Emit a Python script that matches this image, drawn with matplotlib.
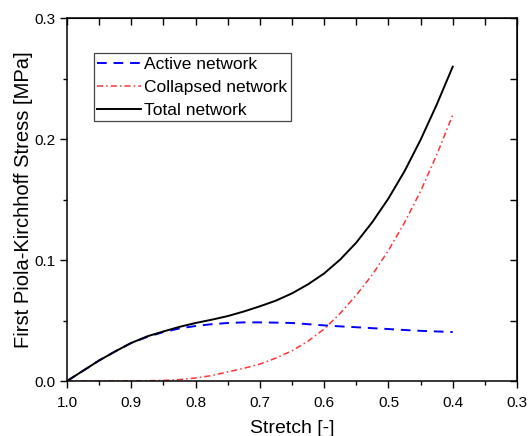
import matplotlib.pyplot as plt
from matplotlib.ticker import MultipleLocator

plt.rcParams['font.family'] = ['Liberation Sans', 'DejaVu Sans']

# stretch values (x axis runs from 1.0 down to 0.3)
stretch = [1.0, 0.975, 0.95, 0.925, 0.9, 0.875, 0.85, 0.825, 0.8, 0.775,
           0.75, 0.725, 0.7, 0.675, 0.65, 0.625, 0.6, 0.575, 0.55, 0.525,
           0.5, 0.475, 0.45, 0.425, 0.4]

active = [0.0, 0.0085, 0.017, 0.0245, 0.0315, 0.0365, 0.0405, 0.0435, 0.0455, 0.047,
          0.048, 0.0485, 0.0485, 0.0483, 0.048, 0.047, 0.046, 0.0452, 0.0445, 0.0437,
          0.043, 0.0422, 0.0415, 0.041, 0.0405]

collapsed = [0.0, 0.0, 0.0, 0.0, 0.0001, 0.0002, 0.0005, 0.0012, 0.0025, 0.0045,
             0.0075, 0.0105, 0.014, 0.019, 0.025, 0.033, 0.043, 0.056, 0.071, 0.088,
             0.108, 0.131, 0.157, 0.187, 0.22]

total = [0.0, 0.0085, 0.017, 0.0245, 0.0315, 0.037, 0.041, 0.0448, 0.048, 0.0507,
         0.0537, 0.0575, 0.0618, 0.0665, 0.0725, 0.080, 0.089, 0.1005, 0.1145, 0.1315,
         0.151, 0.1735, 0.1995, 0.2285, 0.26]

fig = plt.figure(figsize=(5.28, 4.36), dpi=100)
ax = fig.add_axes([0.1269, 0.1261, 0.8523, 0.8319])

ax.plot(stretch, active, color="#0000ff", lw=1.4, linestyle=(0, (5, 3.5)), label="Active network")
ax.plot(stretch, collapsed, color="#ff3333", lw=1.1, linestyle=(0, (4, 2, 1, 2)), label="Collapsed network")
ax.plot(stretch, total, color="black", lw=1.4, label="Total network")

ax.set_xlim(1.0, 0.3)
ax.set_ylim(0.0, 0.3)
ax.xaxis.set_major_locator(MultipleLocator(0.1))
ax.xaxis.set_minor_locator(MultipleLocator(0.05))
ax.yaxis.set_major_locator(MultipleLocator(0.1))
ax.yaxis.set_minor_locator(MultipleLocator(0.05))
ax.xaxis.set_major_formatter(plt.FormatStrFormatter("%.1f"))
ax.yaxis.set_major_formatter(plt.FormatStrFormatter("%.1f"))
ax.tick_params(which="major", direction="out", length=5, width=1, labelsize=11)
ax.tick_params(axis="x", which="major", pad=6)
ax.tick_params(which="minor", direction="out", length=3, width=1)

# mirrored ticks on top and right, pointing inward
top = ax.secondary_xaxis("top")
top.xaxis.set_major_locator(MultipleLocator(0.05))
top.tick_params(direction="in", length=5, width=1, labeltop=False)
right = ax.secondary_yaxis("right")
right.yaxis.set_major_locator(MultipleLocator(0.05))
right.tick_params(direction="in", length=5, width=1, labelright=False)

for sp in ax.spines.values():
    sp.set_linewidth(1.1)

ax.set_xlabel("Stretch [-]", fontsize=14, labelpad=7)
ax.set_ylabel("First Piola-Kirchhoff Stress [MPa]", fontsize=14.5, labelpad=1)

leg = ax.legend(loc="upper left", bbox_to_anchor=(0.06, 0.904), borderaxespad=0,
                fontsize=12.5, handlelength=2.5, handletextpad=0.2, labelspacing=0.45,
                borderpad=0.2, fancybox=False, framealpha=1, edgecolor="#444444")
leg.get_frame().set_linewidth(0.9)

plt.savefig("out.png", dpi=100)
